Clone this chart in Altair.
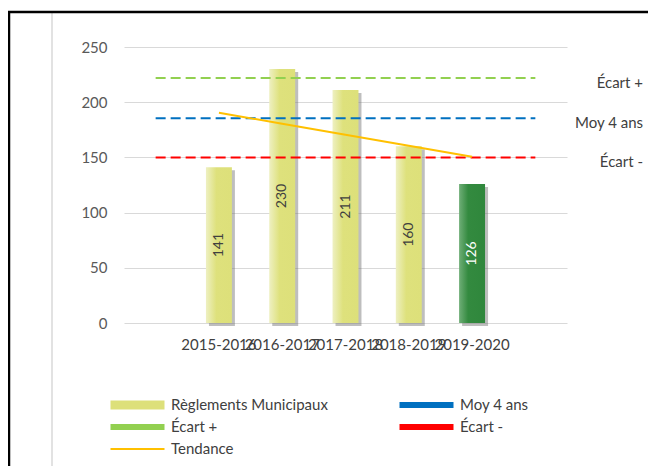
import altair as alt
import pandas as pd

# ---- data ----
years = ["2015-2016", "2016-2017", "2017-2018", "2018-2019", "2019-2020"]
reglements = [141, 230, 211, 160, 126]
tendance = [190.5, 180.5, 170.5, 160.5, 150.5]
ref_names = ["Écart +", "Moy 4 ans", "Écart -"]
ref_values = [222, 185.5, 150]
series_names = ["Règlements Municipaux", "Moy 4 ans", "Écart +", "Écart -", "Tendance"]
series_colors = ["#DDE07A", "#0070C0", "#92D050", "#FF0000", "#FFC000"]
legend_widths = [9, 6, 6, 6, 2]
y_ticks = [0, 50, 100, 150, 200, 250]
pad_start, pad_end = "_start", "_end"
x_domain = [pad_start] + years + [pad_end]

FONT = "Lato"
TXT = "#404040"

bars_df = pd.DataFrame({"year": years, "v": reglements})
trend_df = pd.DataFrame({"year": years, "v": tendance, "series": "Tendance"})
ref_df = pd.DataFrame(
    [{"year": x, "v": v, "series": n} for n, v in zip(ref_names, ref_values) for x in (pad_start, pad_end)]
)
lab_df = pd.DataFrame({"series": ref_names, "v": ref_values})
leg_df = pd.DataFrame({"series": series_names, "year": years, "v": reglements})
one = pd.DataFrame({"k": [0]})

x_enc = alt.X(
    "year:N",
    sort=None,
    scale=alt.Scale(domain=x_domain, paddingInner=0.59, paddingOuter=0.295),
    axis=alt.Axis(
        title=None, domain=False, ticks=False, labelAngle=0, labelPadding=14,
        labelFont=FONT, labelFontSize=15, labelColor=TXT, labelOverlap=False, labelBound=False,
        labelExpr=f"datum.label == '{pad_start}' || datum.label == '{pad_end}' ? '' : datum.label",
    ),
)
y_scale = alt.Scale(domain=[0, 250], nice=False)
y_axis = alt.Axis(
    title=None, values=y_ticks, grid=True, gridColor="#D9D9D9", gridWidth=1.2,
    domain=False, ticks=False, labelPadding=17, labelFont=FONT, labelFontSize=15, labelColor="#595959",
)
y_enc = alt.Y("v:Q", scale=y_scale, axis=y_axis)

legend = alt.Legend(
    title=None, orient="none", legendX=-18, legendY=348, direction="horizontal",
    columns=2, columnPadding=67, rowPadding=2, clipHeight=20,
    symbolType="stroke", symbolSize=2916,
    labelFont=FONT, labelFontSize=15, labelColor=TXT, labelOffset=2, padding=0,
)
color_scale = alt.Scale(domain=series_names, range=series_colors)
color_enc = alt.Color("series:N", scale=color_scale, legend=legend)

yellow_grad = alt.LinearGradient(
    gradient="linear", x1=0, y1=0, x2=1, y2=0,
    stops=[alt.GradientStop(offset=0, color="#EEF0C2"), alt.GradientStop(offset=0.4, color="#DEE17C"),
           alt.GradientStop(offset=1, color="#DDE07A")],
)
green_grad = alt.LinearGradient(
    gradient="linear", x1=0, y1=0, x2=1, y2=0,
    stops=[alt.GradientStop(offset=0, color="#6FAE77"), alt.GradientStop(offset=0.35, color="#338A3F"),
           alt.GradientStop(offset=1, color="#2F873C")],
)

last = years[-1]
base = alt.Chart(bars_df)

shadow = base.mark_bar(color="#6E6E6E", opacity=0.45, xOffset=3, yOffset=3).encode(x=x_enc, y=y_enc)
bars_y = base.transform_filter(f"datum.year != '{last}'").mark_bar(fill=yellow_grad).encode(x=x_enc, y=y_enc)
bars_g = base.transform_filter(f"datum.year == '{last}'").mark_bar(fill=green_grad).encode(x=x_enc, y=y_enc)

labels = base.transform_calculate(mid="datum.v / 2").mark_text(
    angle=270, font=FONT, fontSize=14, align="center", baseline="middle"
).encode(
    x=x_enc,
    y=alt.Y("mid:Q", scale=y_scale, axis=y_axis),
    text="v:Q",
    color=alt.condition(f"datum.year == '{last}'", alt.value("#FFFFFF"), alt.value(TXT)),
)

# invisible layer that only carries the legend (colour + stroke width per series)
legend_layer = alt.Chart(leg_df).transform_filter("false").mark_line().encode(
    x=x_enc, y=y_enc,
    color=color_enc,
    strokeWidth=alt.StrokeWidth(
        "series:N",
        scale=alt.Scale(type="ordinal", domain=series_names, range=legend_widths),
        legend=legend,
    ),
)

refs = alt.Chart(ref_df).mark_line(strokeDash=[10, 5], strokeWidth=2).encode(
    x=x_enc, y=y_enc, color=color_enc, detail="series:N"
)
trend = alt.Chart(trend_df).mark_line(strokeWidth=2).encode(x=x_enc, y=y_enc, color=color_enc)

ref_labels = alt.Chart(lab_df).mark_text(
    align="right", baseline="middle", dy=5, font=FONT, fontSize=15, color=TXT
).encode(x=alt.value(519), y=alt.Y("v:Q", scale=y_scale, axis=y_axis), text="series:N")

border = alt.Chart(one).mark_rect(fillOpacity=0, stroke="#000000", strokeWidth=2.5).encode(
    x=alt.value(-115), x2=alt.value(700), y=alt.value(-35), y2=alt.value(600)
)
vline = alt.Chart(one).mark_rule(color="#D9D9D9", strokeWidth=1.5).encode(
    x=alt.value(-72), y=alt.value(-35), y2=alt.value(600)
)

chart = alt.layer(
    vline, legend_layer, shadow, bars_y, bars_g, refs, trend, labels, ref_labels, border
).properties(
    width=443, height=276,
    autosize=alt.AutoSizeParams(type="none"),
    padding={"left": 116, "top": 39, "right": 81, "bottom": 143},
    background="white",
).configure_view(stroke=None)

chart.save("out.html", embed_options={"renderer": "svg", "actions": False})
